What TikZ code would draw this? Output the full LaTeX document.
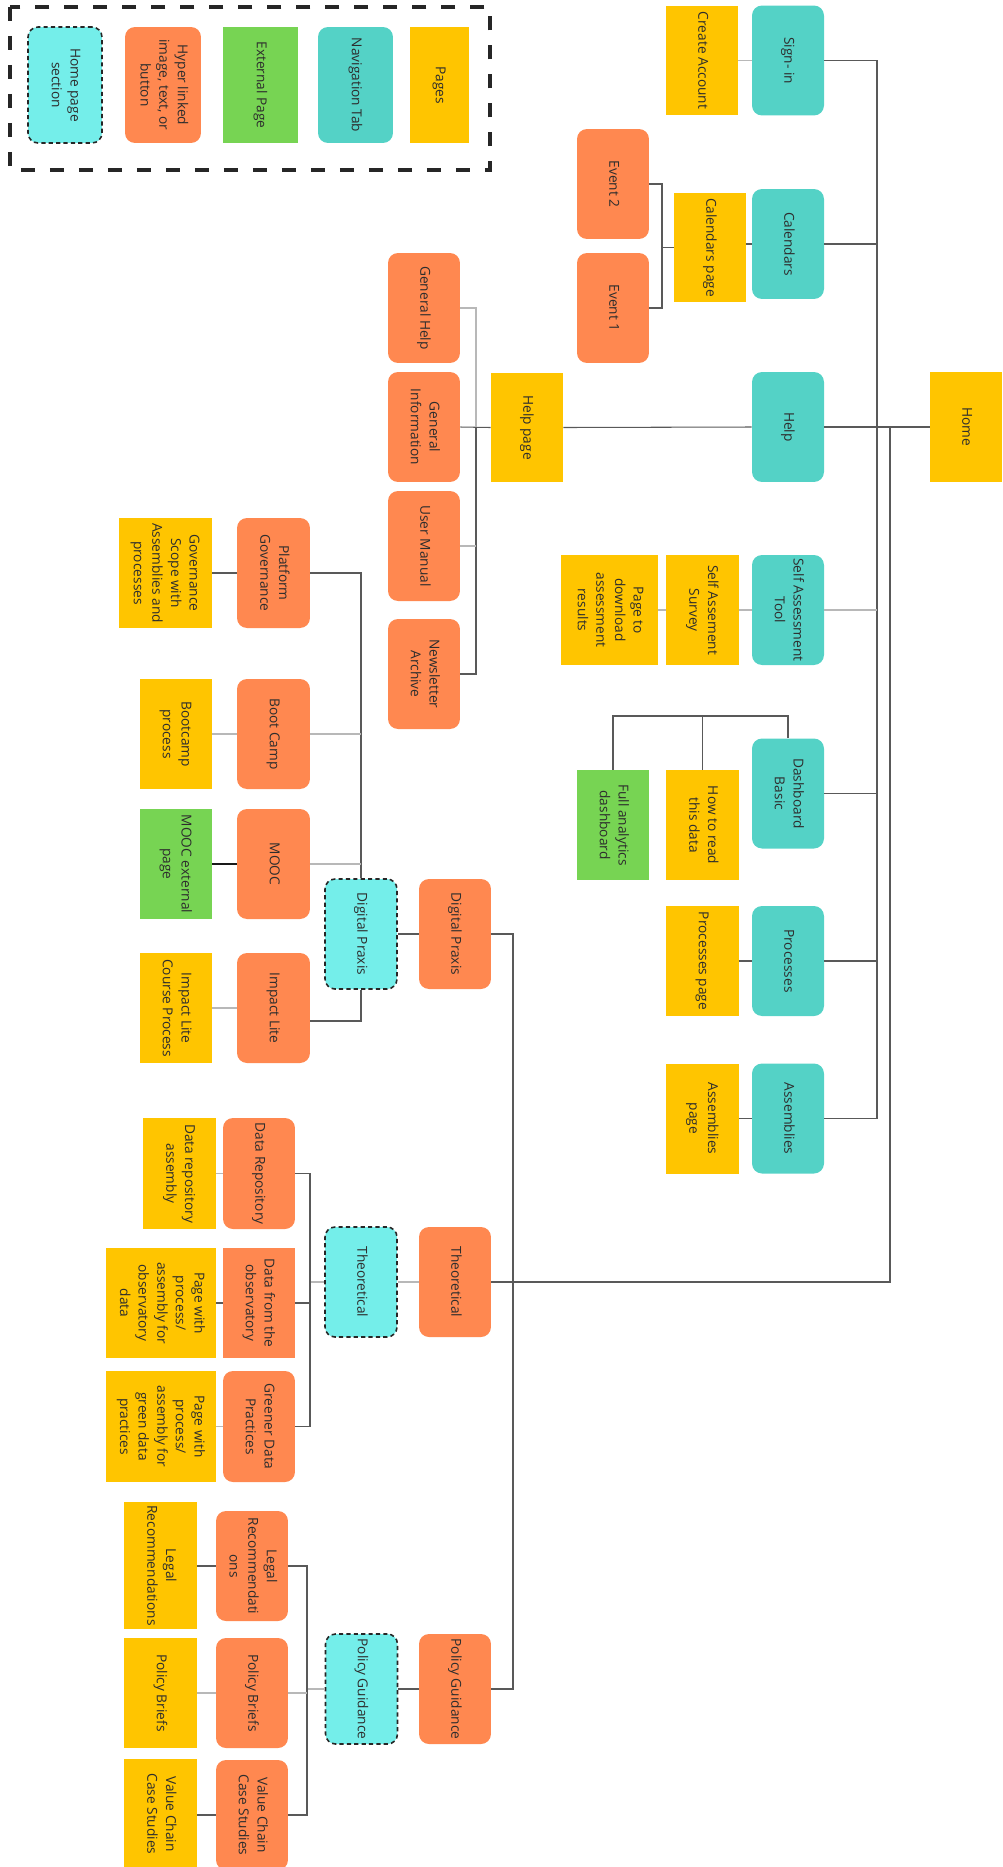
\documentclass[tikz,border=0pt]{standalone}
\usepackage{fontspec}
\setmainfont{Open Sans}
\usepackage{graphicx}

\definecolor{navteal}{RGB}{84,210,198}
\definecolor{pageyellow}{RGB}{255,197,0}
\definecolor{linkorange}{RGB}{255,136,80}
\definecolor{extgreen}{RGB}{119,212,83}
\definecolor{seccyan}{RGB}{116,238,234}
\definecolor{textgray}{RGB}{45,45,45}

% 縦書き風のラベル
\newcommand{\vt}[1]{\rotatebox{-90}{\begin{tabular}{@{}c@{}}#1\end{tabular}}}

\tikzset{
  box/.style={inner sep=0pt, text=textgray, font=\fontsize{7.8}{10.6}\selectfont,
    minimum width=1.44cm, minimum height=2.2cm},
  navtab/.style={box, fill=navteal, rounded corners=0.2cm},
  pagebox/.style={box, fill=pageyellow},
  linkbox/.style={box, fill=linkorange, rounded corners=0.2cm},
  extbox/.style={box, fill=extgreen},
  secbox/.style={box, fill=seccyan, draw=black!85, line width=0.9pt,
    dash pattern=on 2.4pt off 1.8pt, rounded corners=0.2cm},
  link/.style={draw=black!65, line width=0.6pt},
  softlink/.style={draw=black!28, line width=0.6pt},
  legendframe/.style={draw=black!85, line width=1.8pt, dash pattern=on 8pt off 8.5pt}
}

\begin{document}
\begin{tikzpicture}[x=0.02cm, y=-0.02cm]
    \useasboundingbox (0,0) rectangle (1003,1867);

    % 凡例
    \draw[legendframe] (10,7) rectangle (490,170);
    \node[secbox, minimum width=1.48cm, minimum height=2.32cm] (lsec) at (65,85) {\vt{Home page\\section}};
    \node[linkbox, minimum width=1.52cm, minimum height=2.32cm] (llink) at (163,85) {\vt{Hyper linked\\image, text, or\\button}};
    \node[extbox, minimum width=1.5cm, minimum height=2.32cm] (lext) at (260.5,85) {\vt{External Page}};
    \node[navtab, minimum width=1.5cm, minimum height=2.32cm] (lnav) at (355.5,85) {\vt{Navigation Tab}};
    \node[pagebox, minimum width=1.18cm, minimum height=2.32cm] (lpage) at (439.5,85) {\vt{Pages}};

    % ホームとナビゲーションタブ
    \node[pagebox] (home) at (966,427) {\vt{Home}};
    \node[navtab] (signin) at (788,60.5) {\vt{Sign- in}};
    \node[navtab] (calendars) at (788,244) {\vt{Calendars}};
    \node[navtab] (help) at (788,427) {\vt{Help}};
    \node[navtab] (sat) at (788,610) {\vt{Self Assessment\\Tool}};
    \node[navtab] (dashboard) at (788,793.5) {\vt{Dashboard\\Basic}};
    \node[navtab] (processes) at (788,961) {\vt{Processes}};
    \node[navtab] (assemblies) at (788,1118.5) {\vt{Assemblies}};

    % ページ
    \node[pagebox] (createacc) at (702,60.5) {\vt{Create Account}};
    \node[pagebox] (calpage) at (710,247.5) {\vt{Calendars page}};
    \node[linkbox] (event2) at (613,184) {\vt{Event 2}};
    \node[linkbox] (event1) at (613,308) {\vt{Event 1}};
    \node[pagebox] (helppage) at (527,427.5) {\vt{Help page}};
    \node[linkbox] (genhelp) at (424,308) {\vt{General Help}};
    \node[linkbox] (geninfo) at (424,427) {\vt{General\\Information}};
    \node[linkbox] (usermanual) at (424,546) {\vt{User Manual}};
    \node[linkbox] (newsletter) at (424,674) {\vt{Newsletter\\Archive}};
    \node[pagebox, minimum width=1.46cm] (survey) at (702.5,610) {\vt{Self Assement\\Survey}};
    \node[pagebox, minimum width=1.94cm] (download) at (609.5,610) {\vt{Page to\\download\\assessment\\results}};
    \node[pagebox, minimum width=1.46cm] (howto) at (702.5,825) {\vt{How to read\\this data}};
    \node[extbox] (fullan) at (613,825) {\vt{Full analytics\\dashboard}};
    \node[pagebox, minimum width=1.46cm] (procpage) at (702.5,961) {\vt{Processes page}};
    \node[pagebox, minimum width=1.46cm] (asmpage) at (702.5,1118.5) {\vt{Assemblies\\page}};

    % Digital Praxis
    \node[linkbox] (dpOrange) at (455,934) {\vt{Digital Praxis}};
    \node[secbox] (dpSec) at (361,934) {\vt{Digital Praxis}};
    \node[linkbox, minimum width=1.46cm] (platgov) at (273.5,573) {\vt{Platform\\Governance}};
    \node[linkbox, minimum width=1.46cm] (bootcamp) at (273.5,734) {\vt{Boot Camp}};
    \node[linkbox, minimum width=1.46cm] (mooc) at (273.5,864) {\vt{MOOC}};
    \node[linkbox, minimum width=1.46cm] (impact) at (273.5,1008) {\vt{Impact Lite}};
    \node[pagebox, minimum width=1.86cm] (govscope) at (165.5,573) {\vt{Governance\\Scope with\\Assemblies and\\processes}};
    \node[pagebox] (bootproc) at (176,734) {\vt{Bootcamp\\process}};
    \node[extbox] (moocext) at (176,864) {\vt{MOOC external\\page}};
    \node[pagebox] (impactproc) at (176,1008) {\vt{Impact Lite\\Course Process}};

    % Theoretical
    \node[linkbox] (thOrange) at (455,1282) {\vt{Theoretical}};
    \node[secbox] (thSec) at (361,1282) {\vt{Theoretical}};
    \node[linkbox, minimum height=2.22cm] (datarepo) at (259,1173.5) {\vt{Data Repository}};
    \node[box, fill=linkorange] (observ) at (259,1303) {\vt{Data from the\\observatory}};
    \node[linkbox, minimum height=2.22cm] (greener) at (259,1426.5) {\vt{Greener Data\\Practices}};
    \node[pagebox, minimum width=1.46cm, minimum height=2.22cm] (repoasm) at (179.5,1173.5) {\vt{Data repository\\assembly}};
    \node[pagebox, minimum width=2.2cm] (obspage) at (161,1303) {\vt{Page with\\process/\\assembly for\\observatory\\data}};
    \node[pagebox, minimum width=2.2cm, minimum height=2.22cm] (greenpage) at (161,1426.5) {\vt{Page with\\process/\\assembly for\\green data\\practices}};

    % Policy Guidance
    \node[linkbox] (pgOrange) at (455,1689) {\vt{Policy Guidance}};
    \node[secbox] (pgSec) at (361.5,1689) {\vt{Policy Guidance}};
    \node[linkbox] (legalO) at (252,1566) {\vt{Legal\\Recommendati\\ons}};
    \node[linkbox] (briefsO) at (252,1693) {\vt{Policy Briefs}};
    \node[linkbox] (valueO) at (252,1815) {\vt{Value Chain\\Case Studies}};
    \node[pagebox, minimum width=1.46cm, minimum height=2.54cm] (legalY) at (160.5,1565.5) {\vt{Legal\\Recommendations}};
    \node[pagebox, minimum width=1.46cm] (briefsY) at (160.5,1693) {\vt{Policy Briefs}};
    \node[pagebox, minimum width=1.46cm] (valueY) at (160.5,1814) {\vt{Value Chain\\Case Studies}};

    % 分岐点
    \coordinate (busA) at (877,427);
    \coordinate (busB) at (890,427);
    \coordinate (busC) at (513,1282);
    \coordinate (busE) at (662,247.5);
    \coordinate (busH) at (476,427);
    \coordinate (busD) at (702,716);
    \coordinate (busT) at (310,1282);
    \coordinate (busP) at (307,1689);

    % エッジ
    \draw[link] (home.west) -- (help.east);
    \draw[link] (signin.east) -| (busA);
    \draw[link] (assemblies.east) -| (busA);
    \draw[link] (calendars.east) -- (calendars.east -| busA);
    \draw[softlink] (sat.east) -- (sat.east -| busA);
    \draw[link] (dashboard.east) -- (dashboard.east -| busA);
    \draw[link] (processes.east) -- (processes.east -| busA);
    \draw[link] (thOrange.east) -| (busB);
    \draw[link] (dpOrange.east) -| (busC);
    \draw[link] (pgOrange.east) -| (busC);

    \draw[softlink] (signin.west) -- (createacc.east);
    \draw[link] (calendars.west) -- (calendars.west -| calpage.east);
    \draw[link] (calpage.west) -- (busE);
    \draw[link] (event2.east) -| (busE);
    \draw[link] (event1.east) -| (busE);

    \draw[link] (help.west) -- (helppage.east);
    \draw[link] (helppage.west) -- (geninfo.east);
    \draw[softlink] (genhelp.east) -| (busH);
    \draw[link] (newsletter.east) -| (busH);
    \draw[softlink] (usermanual.east) -- (usermanual.east -| busH);

    \draw[softlink] (sat.west) -- (survey.east);
    \draw[softlink] (survey.west) -- (download.east);
    \draw[link] (dashboard.north) |- (busD) -| (fullan.north);
    \draw[link] (howto.north) -- (howto.north |- busD);
    \draw[link] (processes.west) -- (procpage.east);
    \draw[link] (assemblies.west) -- (asmpage.east);

    \draw[link] (dpOrange.west) -- (dpSec.east);
    \draw[link] (platgov.east) -| (dpSec.north);
    \draw[link] ([yshift=-0.26cm]impact.east) -| (dpSec.south);
    \draw[softlink] (bootcamp.east) -- (bootcamp.east -| dpSec.north);
    \draw[softlink] (mooc.east) -- (mooc.east -| dpSec.north);
    \draw[link] (platgov.west) -- (govscope.east);
    \draw[softlink] (bootcamp.west) -- (bootproc.east);
    \draw[black!90, line width=0.6pt] (mooc.west) -- (moocext.east);
    \draw[softlink] (impact.west) -- (impactproc.east);

    \draw[softlink] (thOrange.west) -- (thSec.east);
    \draw[softlink] (thSec.west) -- (busT);
    \draw[link] (datarepo.east) -| (busT);
    \draw[link] (greener.east) -| (busT);
    \draw[link] (observ.east) -- (observ.east -| busT);
    \draw[softlink] (datarepo.west) -- (repoasm.east);
    \draw[link] (observ.west) -- (obspage.east);
    \draw[softlink] (greener.west) -- (greenpage.east);

    \draw[link] (pgOrange.west) -- (pgSec.east);
    \draw[softlink] (pgSec.west) -- (busP);
    \draw[link] (legalO.east) -| (busP);
    \draw[link] (valueO.east) -| (busP);
    \draw[softlink] (briefsO.east) -- (briefsO.east -| busP);
    \draw[link] (legalO.west) -- (legalO.west -| legalY.east);
    \draw[softlink] (briefsO.west) -- (briefsY.east);
    \draw[link] (valueO.west) -- (valueO.west -| valueY.east);
\end{tikzpicture}
\end{document}
